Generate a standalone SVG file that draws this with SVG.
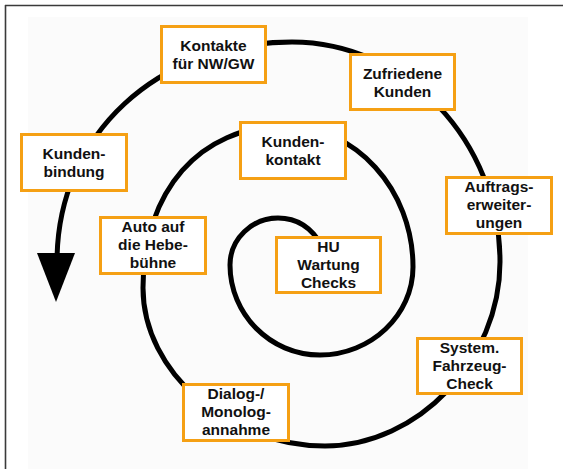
<svg xmlns="http://www.w3.org/2000/svg" width="563" height="469" viewBox="0 0 563 469">
<style>
.box rect{fill:#fff;stroke:#F5A014;stroke-width:3}
.box text{font-family:"Liberation Sans",Arial,sans-serif;font-weight:bold;font-size:15.5px;fill:#111;text-anchor:middle}
.spiral{fill:none;stroke:#000;stroke-width:5;stroke-linecap:round}
</style>
<rect x="0" y="0" width="563" height="469" fill="#fff"/>
<rect x="28" y="17" width="500" height="452" fill="#fbfbfb"/>
<line x1="5" y1="5.5" x2="563" y2="5.5" stroke="#3a3a3a" stroke-width="1.6"/>
<line x1="5.5" y1="5" x2="5.5" y2="469" stroke="#3a3a3a" stroke-width="1.6"/>
<g id="connectors">
<path class="spiral" d="M322,246 C312,228 298,218 278,218 C252,218 230,239 230,265 C230,314 270,355 320,355 C371,355 413,315 413,267 C413,189 355,126 285,126 C200,126 143,191 143,288 C143,372 228,446 325,446 C418,446 500,360 500,262 C500,141 406,42 292,42 C158,42 57,134 57,262"/>
<polygon points="37,253 75,253 56,302" fill="#000"/>
</g>
<g id="n1" class="box"><rect x="161.5" y="26.5" width="104" height="56"/><text x="213.5" y="51">Kontakte</text><text x="213.5" y="69">für NW/GW</text></g>
<g id="n2" class="box"><rect x="350.5" y="54.5" width="104" height="55"/><text x="402.5" y="79">Zufriedene</text><text x="402.5" y="97">Kunden</text></g>
<g id="n3" class="box"><rect x="21.5" y="134.5" width="105" height="56"/><text x="74" y="159">Kunden-</text><text x="74" y="177">bindung</text></g>
<g id="n4" class="box"><rect x="240.5" y="122.5" width="105" height="56"/><text x="293" y="147">Kunden-</text><text x="293" y="165">kontakt</text></g>
<g id="n5" class="box"><rect x="446.5" y="177.5" width="105" height="56"/><text x="499" y="192">Auftrags-</text><text x="499" y="210">erweiter-</text><text x="499" y="227.5">ungen</text></g>
<g id="n6" class="box"><rect x="100.5" y="217.5" width="105" height="56"/><text x="153" y="232">Auto auf</text><text x="153" y="250">die Hebe-</text><text x="153" y="268">bühne</text></g>
<g id="n7" class="box"><rect x="276.5" y="237.5" width="104" height="55"/><text x="328.5" y="252">HU</text><text x="328.5" y="270">Wartung</text><text x="328.5" y="287.5">Checks</text></g>
<g id="n8" class="box"><rect x="417.5" y="338.5" width="104" height="55"/><text x="469.5" y="353">System.</text><text x="469.5" y="371">Fahrzeug-</text><text x="469.5" y="388.5">Check</text></g>
<g id="n9" class="box"><rect x="183.5" y="384.5" width="105" height="56"/><text x="236" y="399">Dialog-/</text><text x="236" y="417">Monolog-</text><text x="236" y="435">annahme</text></g>
</svg>
